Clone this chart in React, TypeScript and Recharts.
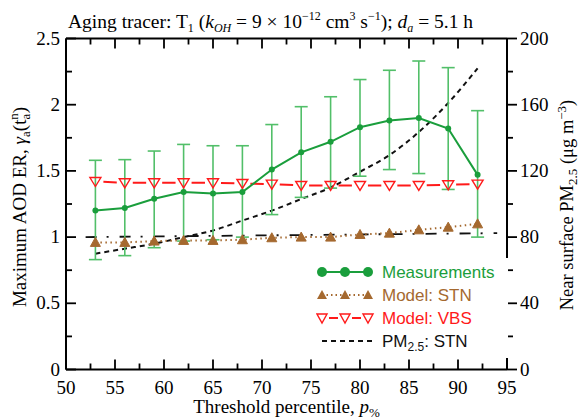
import React from "react";
import {
  ComposedChart,
  Line,
  XAxis,
  YAxis,
  ErrorBar,
  ReferenceLine,
  Legend,
} from "recharts";

// threshold percentiles (x)
const percentiles = [53, 56, 59, 62, 65, 68, 71, 74, 77, 80, 83, 86, 89, 92];

// maximum AOD ER, left axis
const measured = [1.2, 1.22, 1.29, 1.34, 1.33, 1.34, 1.51, 1.64, 1.72, 1.83, 1.88, 1.9, 1.82, 1.47];
const measuredLow = [0.83, 0.86, 0.92, 0.97, 0.98, 1.0, 1.17, 1.3, 1.37, 1.46, 1.51, 1.48, 1.36, 1.0];
const measuredHigh = [1.58, 1.585, 1.65, 1.7, 1.69, 1.69, 1.85, 1.985, 2.06, 2.19, 2.26, 2.33, 2.28, 1.955];
const modelStn = [0.96, 0.96, 0.97, 0.975, 0.975, 0.98, 0.995, 1.0, 1.0, 1.02, 1.03, 1.055, 1.075, 1.1];
const modelVbs = [1.42, 1.41, 1.41, 1.41, 1.41, 1.405, 1.4, 1.39, 1.39, 1.39, 1.39, 1.39, 1.395, 1.4];

// near surface PM2.5, right axis
const pm25Stn = [70, 73, 76, 80, 84, 90, 96, 103, 110, 119.5, 129.5, 143.5, 161, 182];

// dash-dot guide close to ER = 1
const unityX = [52, 94];
const unityY = [1.0, 1.03];

const xTicks = [50, 52.5, 55, 57.5, 60, 62.5, 65, 67.5, 70, 72.5, 75, 77.5, 80, 82.5, 85, 87.5, 90, 92.5, 95];
const xLabels = [50, 55, 60, 65, 70, 75, 80, 85, 90, 95];
const leftTicks = [0, 0.25, 0.5, 0.75, 1, 1.25, 1.5, 1.75, 2, 2.25, 2.5];
const leftLabels = [0, 0.5, 1, 1.5, 2, 2.5];
const rightTicks = [0, 20, 40, 60, 80, 100, 120, 140, 160, 180, 200];
const rightLabels = [0, 40, 80, 120, 160, 200];

const legendNames = ["Measurements", "Model: STN", "Model: VBS", "PM2.5: STN"];

const data = percentiles.map((p, i) => ({
  p,
  meas: measured[i],
  err: [measured[i] - measuredLow[i], measuredHigh[i] - measured[i]],
  stn: modelStn[i],
  vbs: modelVbs[i],
  pm: pm25Stn[i],
}));

const unityData = unityX.map((p, i) => ({ p, unity: unityY[i] }));

const W = 581;
const H = 420;
const LEFT = 66;
const RIGHT = 507;
const TOP = 38.5;
const BOTTOM = 369.5;

const SERIF = '"Liberation Serif", "Times New Roman", serif';
const SANS = '"Liberation Sans", Arial, sans-serif';
const GREEN = "#1a9e3c";
const GREEN_BAR = "#52bf69";
const BROWN = "#a5692f";
const RED = "#ff1a1a";
const INK = "#111";

const XTick = (props: any) => {
  const { x, payload } = props;
  const major = xLabels.includes(payload.value);
  const len = major ? 10 : 6;
  return (
    <g>
      <line x1={x} x2={x} y1={BOTTOM} y2={BOTTOM - len} stroke="#000" strokeWidth={1.8} />
      <line x1={x} x2={x} y1={TOP} y2={TOP + len} stroke="#000" strokeWidth={1.8} />
      {major && (
        <text x={x} y={BOTTOM + 24} textAnchor="middle" fontFamily={SERIF} fontSize={19} fill="#000">
          {payload.value}
        </text>
      )}
    </g>
  );
};

const LeftTick = (props: any) => {
  const { y, payload } = props;
  const major = leftLabels.includes(payload.value);
  const len = major ? 10 : 6;
  return (
    <g>
      <line x1={LEFT} x2={LEFT + len} y1={y} y2={y} stroke="#000" strokeWidth={1.8} />
      {major && (
        <text x={LEFT - 6} y={y + 6} textAnchor="end" fontFamily={SERIF} fontSize={19} fill="#000">
          {payload.value}
        </text>
      )}
    </g>
  );
};

const RightTick = (props: any) => {
  const { y, payload } = props;
  const major = rightLabels.includes(payload.value);
  const len = major ? 10 : 6;
  return (
    <g>
      <line x1={RIGHT} x2={RIGHT + len} y1={y} y2={y} stroke="#000" strokeWidth={1.8} />
      {major && (
        <text x={RIGHT + 13} y={y + 6} textAnchor="start" fontFamily={SERIF} fontSize={19} fill="#000">
          {payload.value}
        </text>
      )}
    </g>
  );
};

const XTitle = () => (
  <text x={(LEFT + RIGHT) / 2} y={413} textAnchor="middle" fontFamily={SERIF} fontSize={19} fill="#000">
    {"Threshold percentile, "}
    <tspan fontStyle="italic">p</tspan>
    <tspan fontSize={13} dy={4}>%</tspan>
  </text>
);

const LeftTitle = () => (
  <text transform="translate(26 207) rotate(-90)" textAnchor="middle" fontFamily={SERIF} fontSize={19} fill="#000">
    {"Maximum AOD ER, "}
    <tspan fontStyle="italic">γ</tspan>
    <tspan fontSize={13} dy={4}>a</tspan>
    <tspan dy={-4}>(t</tspan>
    <tspan fontSize={13} dy={4}>a</tspan>
    <tspan fontSize={13} dx={-6} dy={-12}>n</tspan>
    <tspan dy={8}>)</tspan>
  </text>
);

const RightTitle = () => (
  <text transform="translate(573 205) rotate(-90)" textAnchor="middle" fontFamily={SERIF} fontSize={18.5} fill="#000">
    {"Near surface PM"}
    <tspan fontSize={13} dy={4}>2.5</tspan>
    <tspan dy={-4}>{" (μg m"}</tspan>
    <tspan fontSize={13} dy={-7}>−3</tspan>
    <tspan dy={7}>)</tspan>
  </text>
);

const UpTriangle = (props: any) => {
  const { cx, cy, index } = props;
  if (cx == null || cy == null) return <g key={index} />;
  return (
    <polygon
      key={index}
      points={`${cx},${cy - 5} ${cx - 5},${cy + 4} ${cx + 5},${cy + 4}`}
      fill={BROWN}
      stroke={BROWN}
      strokeWidth={1}
    />
  );
};

const DownTriangle = (props: any) => {
  const { cx, cy, index } = props;
  if (cx == null || cy == null) return <g key={index} />;
  return (
    <polygon
      key={index}
      points={`${cx - 5.5},${cy - 4} ${cx + 5.5},${cy - 4} ${cx},${cy + 5}`}
      fill="none"
      stroke={RED}
      strokeWidth={1.4}
    />
  );
};

const LegendBox = () => {
  const colors = [GREEN, BROWN, RED, INK];
  const marks = [6, 29, 52];
  return (
    <svg width={192} height={100}>
      <rect x={0} y={0} width={192} height={100} fill="#fff" />
      {legendNames.map((name, i) => {
        const cy = 14 + i * 23;
        const c = colors[i];
        return (
          <g key={name}>
            {i === 0 && (
              <g>
                <line x1={6} x2={52} y1={cy} y2={cy} stroke={c} strokeWidth={2} />
                {marks.map((m) => (
                  <circle key={m} cx={m} cy={cy} r={5} fill={c} />
                ))}
              </g>
            )}
            {i === 1 && (
              <g>
                <line x1={6} x2={52} y1={cy} y2={cy} stroke={c} strokeWidth={2} strokeDasharray="1.5 3" />
                {marks.map((m) => (
                  <polygon key={m} points={`${m},${cy - 5} ${m - 5},${cy + 4} ${m + 5},${cy + 4}`} fill={c} />
                ))}
              </g>
            )}
            {i === 2 && (
              <g>
                <line x1={6} x2={52} y1={cy} y2={cy} stroke={c} strokeWidth={2} strokeDasharray="0 7 9 7" />
                {marks.map((m) => (
                  <polygon
                    key={m}
                    points={`${m - 5},${cy - 4} ${m + 5},${cy - 4} ${m},${cy + 5}`}
                    fill="#fff"
                    stroke={c}
                    strokeWidth={1.4}
                  />
                ))}
              </g>
            )}
            {i === 3 && (
              <line x1={6} x2={56} y1={cy} y2={cy} stroke={c} strokeWidth={2} strokeDasharray="5 4" />
            )}
            <text x={66} y={cy + 6} fontFamily={SANS} fontSize={17} fill={c}>
              {i === 3 ? (
                <>
                  PM<tspan fontSize={12} dy={4}>2.5</tspan>
                  <tspan dy={-4}>: STN</tspan>
                </>
              ) : (
                name
              )}
            </text>
          </g>
        );
      })}
    </svg>
  );
};

export default function App() {
  return (
    <div style={{ position: "absolute", left: 0, top: 0, width: W, height: H, background: "#fff" }}>
      <div
        style={{
          position: "absolute",
          left: 68,
          top: 4,
          fontFamily: SERIF,
          fontSize: 19.5,
          lineHeight: "24px",
          whiteSpace: "nowrap",
          zIndex: 2,
        }}
      >
        Aging tracer: T<sub style={{ fontSize: 12 }}>1</sub> (<i>k</i>
        <sub style={{ fontSize: 12 }}>
          <i>OH</i>
        </sub>{" "}
        = 9 × 10<sup style={{ fontSize: 12 }}>−12</sup> cm<sup style={{ fontSize: 12 }}>3</sup> s
        <sup style={{ fontSize: 12 }}>−1</sup>); <i>d</i>
        <sub style={{ fontSize: 12 }}>
          <i>a</i>
        </sub>{" "}
        = 5.1 h
      </div>
      <ComposedChart
        width={W}
        height={H}
        data={data}
        margin={{ top: TOP, right: 0, bottom: H - BOTTOM - 46, left: 0 }}
      >
        <XAxis
          dataKey="p"
          type="number"
          domain={[50, 95]}
          ticks={xTicks}
          interval={0}
          tickLine={false}
          axisLine={{ stroke: "#000", strokeWidth: 2 }}
          tick={(p: any) => <XTick {...p} />}
          height={46}
          label={<XTitle />}
        />
        <YAxis
          yAxisId="left"
          type="number"
          domain={[0, 2.5]}
          ticks={leftTicks}
          interval={0}
          tickLine={false}
          axisLine={{ stroke: "#000", strokeWidth: 2 }}
          tick={(p: any) => <LeftTick {...p} />}
          width={LEFT}
          label={<LeftTitle />}
        />
        <YAxis
          yAxisId="right"
          orientation="right"
          type="number"
          domain={[0, 200]}
          ticks={rightTicks}
          interval={0}
          tickLine={false}
          axisLine={{ stroke: "#000", strokeWidth: 2 }}
          tick={(p: any) => <RightTick {...p} />}
          width={W - RIGHT}
          label={<RightTitle />}
        />
        <ReferenceLine yAxisId="left" y={2.5} stroke="#000" strokeWidth={2} />
        <Line
          yAxisId="right"
          dataKey="pm"
          type="monotone"
          stroke={INK}
          strokeWidth={2}
          strokeDasharray="5 4"
          dot={false}
          isAnimationActive={false}
        />
        <Line
          yAxisId="left"
          data={unityData}
          dataKey="unity"
          type="linear"
          stroke={INK}
          strokeWidth={1.8}
          strokeDasharray="11 10 2 11"
          dot={false}
          isAnimationActive={false}
        />
        <Line
          yAxisId="left"
          dataKey="stn"
          type="linear"
          stroke={BROWN}
          strokeWidth={2}
          strokeDasharray="1.5 3.5"
          dot={(p: any) => <UpTriangle {...p} key={p.index} />}
          isAnimationActive={false}
        />
        <Line
          yAxisId="left"
          dataKey="vbs"
          type="linear"
          stroke={RED}
          strokeWidth={2}
          strokeDasharray="0 8 13.4 8"
          dot={(p: any) => <DownTriangle {...p} key={p.index} />}
          isAnimationActive={false}
        />
        <Line
          yAxisId="left"
          dataKey="meas"
          type="linear"
          stroke={GREEN}
          strokeWidth={2}
          dot={{ r: 3, fill: GREEN, stroke: GREEN, strokeWidth: 0 }}
          isAnimationActive={false}
        >
          <ErrorBar dataKey="err" direction="y" width={6.5} stroke={GREEN_BAR} strokeWidth={1.6} isAnimationActive={false} />
        </Line>
        <Legend
          layout="horizontal"
          verticalAlign="middle"
          align="center"
          content={() => <LegendBox />}
          wrapperStyle={{ left: 316, top: 258, width: 192, height: 100 }}
        />
      </ComposedChart>
    </div>
  );
}
